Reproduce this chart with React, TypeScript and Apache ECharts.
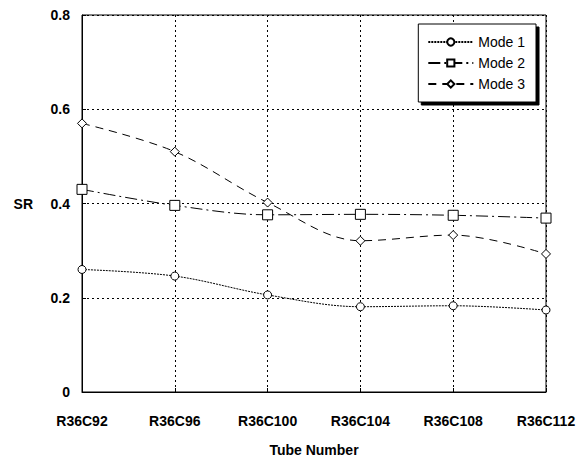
import React, { useEffect, useRef } from "react";
import * as echarts from "echarts";

const categories = ["R36C92", "R36C96", "R36C100", "R36C104", "R36C108", "R36C112"];
const mode1 = [0.26, 0.246, 0.206, 0.181, 0.183, 0.174];
const mode2 = [0.43, 0.396, 0.376, 0.377, 0.375, 0.369];
const mode3 = [0.57, 0.51, 0.402, 0.321, 0.333, 0.293];
const yTicks = [0, 0.2, 0.4, 0.6, 0.8];

const FONT = "Liberation Sans, Arial, sans-serif";

export default function App() {
  const ref = useRef<HTMLDivElement>(null);
  useEffect(() => {
    if (!ref.current) return;
    const chart = echarts.init(ref.current, null, { renderer: "svg" });
    const mk = (name: string, data: number[], symbol: string, dash: any, size: number) => ({
      name,
      type: "line",
      data,
      smooth: 0.35,
      symbol,
      symbolSize: size,
      showSymbol: true,
      itemStyle: { color: "#fff", borderColor: "#000", borderWidth: 1 },
      lineStyle: { color: "#000", width: 1, type: dash },
    });
    chart.setOption({
      animation: false,
      backgroundColor: "#fff",
      textStyle: { fontFamily: FONT },
      grid: { left: 74, right: 42, top: 4, bottom: 69, show: true, borderColor: "#000", borderWidth: 1 },
      legend: {
        right: 52,
        top: 16,
        orient: "vertical",
        align: "left",
        backgroundColor: "#fff",
        borderColor: "#000",
        borderWidth: 1,
        borderRadius: 0,
        padding: [11, 11, 11, 9],
        itemGap: 7,
        itemWidth: 45,
        itemHeight: 9,
        shadowColor: "#000",
        shadowOffsetX: 3,
        shadowOffsetY: 3,
        shadowBlur: 0,
        textStyle: { fontSize: 14, color: "#000", fontFamily: FONT },
        data: ["Mode 1", "Mode 2", "Mode 3"],
      },
      xAxis: {
        type: "category",
        data: categories,
        boundaryGap: false,
        name: "Tube Number",
        nameLocation: "middle",
        nameGap: 51,
        nameTextStyle: { fontSize: 14, fontWeight: "bold", color: "#000", fontFamily: FONT },
        axisLine: { lineStyle: { color: "#000", width: 1 } },
        axisTick: { show: true, inside: true, length: 4, lineStyle: { color: "#000" } },
        axisLabel: { fontSize: 14, fontWeight: "bold", color: "#000", margin: 22, fontFamily: FONT },
        splitLine: { show: true, lineStyle: { color: "#000", type: [2, 3], width: 1 } },
      },
      yAxis: {
        type: "value",
        min: 0,
        max: 0.8,
        interval: 0.2,
        name: "SR",
        nameLocation: "middle",
        nameGap: 49,
        nameRotate: 0,
        nameTextStyle: { fontSize: 14, fontWeight: "bold", color: "#000", fontFamily: FONT, padding: [0, 0, 10, 0] },
        axisLine: { show: true, lineStyle: { color: "#000", width: 1 } },
        axisTick: { show: true, inside: true, length: 4, lineStyle: { color: "#000" } },
        axisLabel: {
          fontSize: 14,
          fontWeight: "bold",
          color: "#000",
          margin: 12,
          fontFamily: FONT,
          formatter: (v: number) => {
            const t = yTicks.find((x) => Math.abs(x - v) < 1e-6);
            return t === 0 ? "0" : String(t ?? v);
          },
        },
        splitLine: { show: true, lineStyle: { color: "#000", type: [2, 3], width: 1 } },
      },
      series: [
        mk("Mode 1", mode1, "circle", [2, 1], 8),
        mk("Mode 2", mode2, "rect", [12, 4, 2, 4], 10),
        mk("Mode 3", mode3, "diamond", [8, 6], 9),
      ],
    });
    return () => chart.dispose();
  }, []);
  return <div ref={ref} style={{ width: 580, height: 454 }} />;
}
